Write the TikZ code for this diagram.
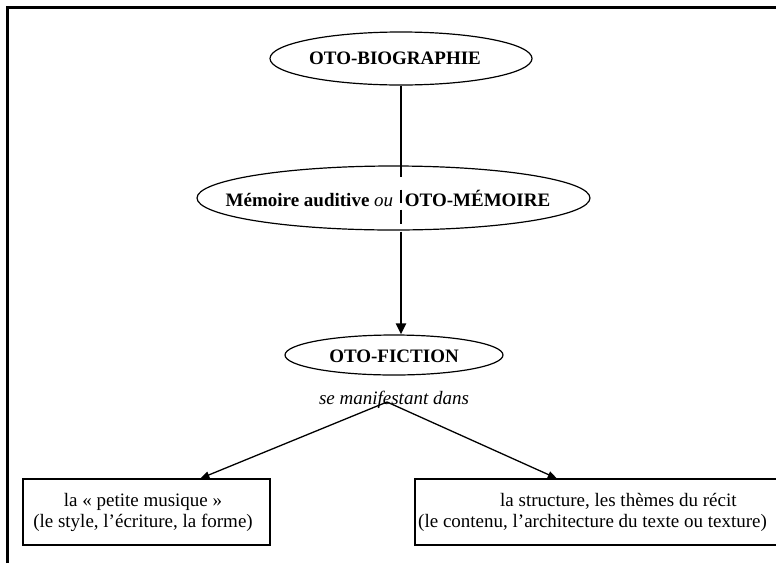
\documentclass[tikz,border=0pt]{standalone}
\usepackage{fontspec}
\setmainfont{Liberation Serif}
\usetikzlibrary{shapes.geometric,arrows.meta,calc}
\begin{document}
\begin{tikzpicture}[x=1pt,y=-1pt,
  oval/.style={draw, ellipse, line width=1.2pt, inner sep=0pt},
  lbl/.style={inner sep=0pt, font=\fontsize{19}{21}\selectfont},
  boxnode/.style={draw, rectangle, line width=1.2pt, inner sep=0pt},
  conn/.style={line width=1.3pt, -{Triangle[length=9pt,width=7pt]}},
  mainconn/.style={line width=2.6pt, -{Triangle[length=11pt,width=10pt]}},
]
\clip (0,0) rectangle (776,563);
\fill[white] (0,0) rectangle (776,563);
\draw[line width=3pt, line join=miter] (7,563) -- (7,7) -- (776,7);
% ellipses
\node[oval, minimum width=262pt, minimum height=53pt] (bio) at (401,58.5) {};
\node[lbl] (biot) at (395,58) {\bfseries OTO-BIOGRAPHIE};
\node[oval, minimum width=393pt, minimum height=64pt] (mem) at (393.5,198) {};
\node[lbl] (memt) at (388,198) {\bfseries Mémoire auditive {\mdseries\itshape ou}\hspace{7pt} OTO-MÉMOIRE};
\node[oval, minimum width=218pt, minimum height=40pt] (fic) at (394,355) {};
\node[lbl] (fict) at (394,356) {\bfseries OTO-FICTION};
\node[lbl] (manif) at (394,400) {\itshape se manifestant dans};
% boxes
\node[boxnode, minimum width=247pt, minimum height=66pt] (lbox) at (146.5,512) {};
\node[lbl, align=center] (lboxt) at (143,512) {la «~petite musique~»\\(le style, l’écriture, la forme)};
\node[boxnode, minimum width=400pt, minimum height=66pt] (rbox) at (615,512) {};
\node[lbl, align=left, anchor=west] (rboxt) at (418,512) {\hspace*{82pt}la structure, les thèmes du récit\\(le contenu, l’architecture du texte ou texture)};
% connectors
\draw[mainconn, dash pattern=on 91pt off 13pt on 13pt off 7pt on 14pt off 8pt on 400pt]
  (bio.south) -- (bio.south |- fic.north);
\coordinate (apex) at (387,402);
\draw[conn] (apex) -- ($(lbox.north west)!0.717!(lbox.north east)$);
\draw[conn] (apex) -- ($(rbox.north west)!0.355!(rbox.north east)$);
\end{tikzpicture}
\end{document}
